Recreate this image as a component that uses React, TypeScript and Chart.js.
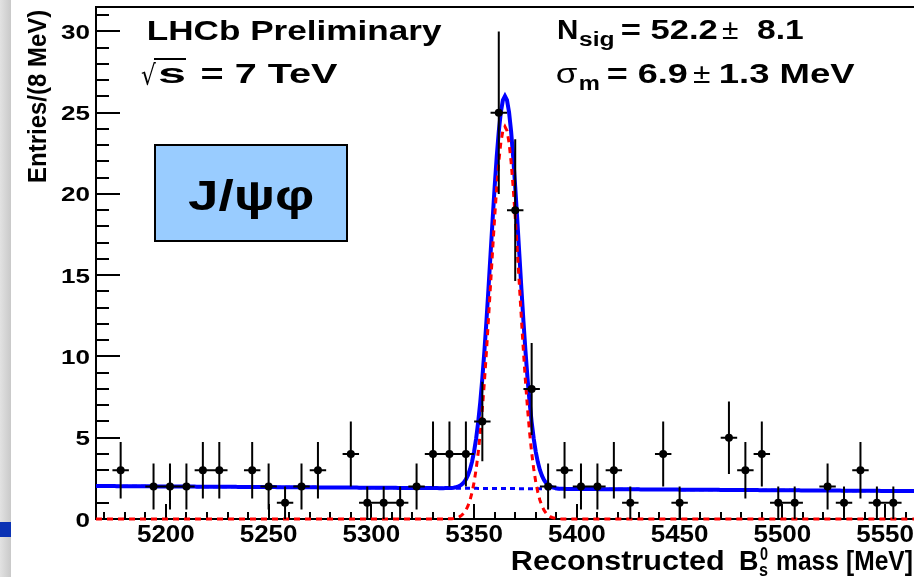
import { useEffect, useRef } from "react";
import { Chart, registerables } from "chart.js";

Chart.register(...registerables);

// B_s -> J/psi phi candidates, 8 MeV bins
const binCenters = [
  5170, 5178, 5186, 5194, 5202, 5210, 5218, 5226, 5234, 5242,
  5250, 5258, 5266, 5274, 5282, 5290, 5298, 5306, 5314, 5322,
  5330, 5338, 5346, 5354, 5362, 5370, 5378, 5386, 5394, 5402,
  5410, 5418, 5426, 5434, 5442, 5450, 5458, 5466, 5474, 5482,
  5490, 5498, 5506, 5514, 5522, 5530, 5538, 5546, 5554, 5562,
];
const entries = [
  0, 3, 0, 2, 2, 2, 3, 3, 0, 3,
  2, 1, 2, 3, 0, 4, 1, 1, 1, 2,
  4, 4, 4, 6, 25, 19, 8, 2, 3, 2,
  2, 3, 1, 0, 4, 1, 0, 0, 5, 3,
  4, 1, 1, 0, 2, 1, 3, 1, 1, 0,
];
const BIN_WIDTH = 8;

const xTickLabels = [5200, 5250, 5300, 5350, 5400, 5450, 5500, 5550];
const yTickLabels = [0, 5, 10, 15, 20, 25, 30];

// fit result: Gaussian signal + linear background
const SIG_YIELD = 52.2;
const SIG_SIGMA = 6.9;
const SIG_MEAN = 5365;
const BKG_LEVEL = 2.03;
const BKG_SLOPE = -0.000785;

const X_MIN = 5166;
const X_MAX = 5566;
const Y_MAX = 31.5;

const signalPdf = (m: number) =>
  ((SIG_YIELD * BIN_WIDTH) / (SIG_SIGMA * Math.sqrt(2 * Math.PI))) *
  Math.exp(-0.5 * ((m - SIG_MEAN) / SIG_SIGMA) ** 2);
const backgroundPdf = (m: number) => BKG_LEVEL + BKG_SLOPE * (m - X_MIN);

const massGrid = Array.from({ length: X_MAX - X_MIN + 1 }, (_, i) => X_MIN + i);

const FONT = '"Liberation Sans", Arial, Helvetica, sans-serif';

// draw text squeezed/stretched horizontally so its ink spans [x0, x1]
function fitText(ctx: CanvasRenderingContext2D, text: string, x0: number, x1: number, baseline: number, font: string) {
  ctx.save();
  ctx.font = font;
  ctx.textAlign = "left";
  ctx.textBaseline = "alphabetic";
  const m = ctx.measureText(text);
  const inkL = -m.actualBoundingBoxLeft;
  const inkR = m.actualBoundingBoxRight;
  const sx = (x1 - x0) / (inkR - inkL);
  ctx.translate(x0 - inkL * sx, baseline);
  ctx.scale(sx, 1);
  ctx.fillStyle = "#000";
  ctx.fillText(text, 0, 0);
  ctx.restore();
}

function scaledText(ctx: CanvasRenderingContext2D, text: string, x: number, baseline: number, font: string, sx: number, align: CanvasTextAlign) {
  ctx.save();
  ctx.font = font;
  ctx.textAlign = align;
  ctx.textBaseline = "alphabetic";
  ctx.translate(x, baseline);
  ctx.scale(sx, 1);
  ctx.fillStyle = "#000";
  ctx.fillText(text, 0, 0);
  ctx.restore();
}

const pagePlugin = {
  id: "page",
  beforeDraw(chart: any) {
    const ctx = chart.ctx as CanvasRenderingContext2D;
    ctx.save();
    const g = ctx.createLinearGradient(0, 0, 11, 0);
    g.addColorStop(0, "#e2e2e2");
    g.addColorStop(1, "#c9c9c9");
    ctx.fillStyle = g;
    ctx.fillRect(0, 0, 11, chart.height);
    ctx.fillStyle = "#0b32b4";
    ctx.fillRect(0, 522, 11, 15);
    ctx.restore();
  },
};

const framePlugin = {
  id: "frame",
  beforeDatasetsDraw(chart: any) {
    const ctx = chart.ctx as CanvasRenderingContext2D;
    const { left, right, top, bottom } = chart.chartArea;
    const x = chart.scales.x;
    const y = chart.scales.y;
    ctx.save();
    ctx.strokeStyle = "#000";
    ctx.lineWidth = 2;
    ctx.beginPath();
    ctx.moveTo(left, top);
    ctx.lineTo(right, top);
    ctx.moveTo(left, top - 1);
    ctx.lineTo(left, bottom);
    ctx.lineTo(right, bottom);
    ctx.stroke();

    ctx.beginPath();
    for (let v = 0; v <= Math.floor(Y_MAX); v++) {
      const py = Math.round(y.getPixelForValue(v));
      const len = v % 5 === 0 ? 24 : 13;
      ctx.moveTo(left, py);
      ctx.lineTo(left + len, py);
    }
    for (let m = 5170; m <= X_MAX; m += 10) {
      const px = Math.round(x.getPixelForValue(m));
      const len = m % 50 === 0 ? 15 : 7;
      ctx.moveTo(px, bottom);
      ctx.lineTo(px, bottom - len);
    }
    ctx.stroke();
    ctx.restore();
  },
};

const errorBarPlugin = {
  id: "errorBars",
  afterDatasetsDraw(chart: any) {
    const ctx = chart.ctx as CanvasRenderingContext2D;
    const x = chart.scales.x;
    const y = chart.scales.y;
    ctx.save();
    ctx.strokeStyle = "#000";
    ctx.lineWidth = 2;
    ctx.beginPath();
    binCenters.forEach((m, i) => {
      const n = entries[i];
      if (n <= 0) return;
      const err = Math.sqrt(n);
      const px = x.getPixelForValue(m);
      const py = y.getPixelForValue(n);
      ctx.moveTo(px, y.getPixelForValue(n + err));
      ctx.lineTo(px, y.getPixelForValue(n - err));
      ctx.moveTo(x.getPixelForValue(m - BIN_WIDTH / 2), py);
      ctx.lineTo(x.getPixelForValue(m + BIN_WIDTH / 2), py);
    });
    ctx.stroke();
    ctx.restore();
  },
};

const textPlugin = {
  id: "texts",
  afterDraw(chart: any) {
    const ctx = chart.ctx as CanvasRenderingContext2D;
    const x = chart.scales.x;
    const y = chart.scales.y;
    const { left, bottom } = chart.chartArea;

    // tick labels
    xTickLabels.forEach((v) => {
      scaledText(ctx, String(v), x.getPixelForValue(v), bottom + 23, `bold 23px ${FONT}`, 1.13, "center");
    });
    yTickLabels.forEach((v) => {
      scaledText(ctx, String(v), left - 6, y.getPixelForValue(v) + 7.5, `bold 21px ${FONT}`, 1.24, "right");
    });

    // axis titles
    fitText(ctx, "Reconstructed", 512, 723, 570, `bold 27px ${FONT}`);
    fitText(ctx, "B", 740, 758, 570, `bold 27px ${FONT}`);
    fitText(ctx, "0", 760, 768, 560, `bold 18px ${FONT}`);
    fitText(ctx, "s", 759, 768, 576, `bold 18px ${FONT}`);
    fitText(ctx, "mass", 777, 838, 570, `bold 27px ${FONT}`);
    fitText(ctx, "[MeV]", 847, 912, 570, `bold 27px ${FONT}`);

    ctx.save();
    ctx.translate(46, 182);
    ctx.rotate(-Math.PI / 2);
    fitText(ctx, "Entries/(8 MeV)", 0, 172, 0, `bold 25px ${FONT}`);
    ctx.restore();

    // labels
    fitText(ctx, "LHCb Preliminary", 148, 442, 40, `bold 28px ${FONT}`);
    fitText(ctx, "\u221A", 141, 156, 85, `28px "DejaVu Sans", ${FONT}`);
    ctx.save();
    ctx.strokeStyle = "#000";
    ctx.lineWidth = 2;
    ctx.beginPath();
    ctx.moveTo(154, 59);
    ctx.lineTo(186, 59);
    ctx.stroke();
    ctx.restore();
    fitText(ctx, "s", 158, 185, 83, `bold 28px ${FONT}`);
    fitText(ctx, "= 7 TeV", 202, 338, 83, `bold 28px ${FONT}`);

    fitText(ctx, "N", 558, 577, 39, `bold 28px ${FONT}`);
    fitText(ctx, "sig", 579, 613, 46, `bold 20px ${FONT}`);
    fitText(ctx, "= 52.2", 622, 717, 39, `bold 28px ${FONT}`);
    fitText(ctx, "\u00B1", 722, 738, 39, `28px ${FONT}`);
    fitText(ctx, "8.1", 757, 803, 39, `bold 28px ${FONT}`);

    fitText(ctx, "\u03C3", 557, 577, 83, `28px ${FONT}`);
    fitText(ctx, "m", 580, 599, 90, `bold 20px ${FONT}`);
    fitText(ctx, "= 6.9", 608, 687, 83, `bold 28px ${FONT}`);
    fitText(ctx, "\u00B1", 693, 710, 83, `28px ${FONT}`);
    fitText(ctx, "1.3 MeV", 720, 855, 83, `bold 28px ${FONT}`);

    // decay channel box
    ctx.save();
    ctx.fillStyle = "#99ccff";
    ctx.fillRect(155, 145, 192, 96);
    ctx.strokeStyle = "#000";
    ctx.lineWidth = 2;
    ctx.strokeRect(155, 145, 192, 96);
    ctx.restore();
    fitText(ctx, "J/\u03C8\u03C6", 188, 313, 210, `bold 42px ${FONT}`);
  },
};

export default function App() {
  const canvasRef = useRef<HTMLCanvasElement | null>(null);

  useEffect(() => {
    const canvas = canvasRef.current;
    if (!canvas) return;
    const chart = new Chart(canvas, {
      type: "line",
      data: {
        datasets: [
          {
            label: "data",
            data: binCenters
              .map((m, i) => ({ x: m, y: entries[i] }))
              .filter((p) => p.y > 0),
            showLine: false,
            pointRadius: 4,
            pointBackgroundColor: "#000",
            pointBorderWidth: 0,
            order: 0,
          },
          {
            label: "signal",
            data: massGrid.map((m) => ({ x: m, y: signalPdf(m) })),
            borderColor: "#ff0000",
            borderWidth: 3,
            borderDash: [6, 5],
            pointRadius: 0,
            tension: 0,
            clip: { left: 0, top: 0, right: 0, bottom: 3 } as any,
            order: 1,
          },
          {
            label: "background",
            data: massGrid.map((m) => ({ x: m, y: backgroundPdf(m) })),
            borderColor: "#0000ff",
            borderWidth: 3,
            borderDash: [5, 4],
            pointRadius: 0,
            tension: 0,
            order: 2,
          },
          {
            label: "total",
            data: massGrid.map((m) => ({ x: m, y: signalPdf(m) + backgroundPdf(m) })),
            borderColor: "#0000ff",
            borderWidth: 4,
            pointRadius: 0,
            tension: 0,
            order: 3,
          },
        ],
      },
      options: {
        responsive: false,
        animation: false,
        devicePixelRatio: 1,
        layout: { padding: { left: 96, top: 7, right: 12, bottom: 58 } },
        scales: {
          x: { type: "linear", min: X_MIN, max: X_MAX, display: false },
          y: { type: "linear", min: 0, max: Y_MAX, display: false },
        },
        plugins: { legend: { display: false }, tooltip: { enabled: false } },
        events: [],
      },
      plugins: [pagePlugin, framePlugin, errorBarPlugin, textPlugin],
    });
    return () => chart.destroy();
  }, []);

  return (
    <div
      style={{
        position: "fixed",
        left: 0,
        top: 0,
        width: 914,
        height: 577,
        overflow: "hidden",
        background: "#fff",
      }}
    >
      <canvas ref={canvasRef} width={930} height={577} style={{ width: 930, height: 577, display: "block" }} />
    </div>
  );
}
